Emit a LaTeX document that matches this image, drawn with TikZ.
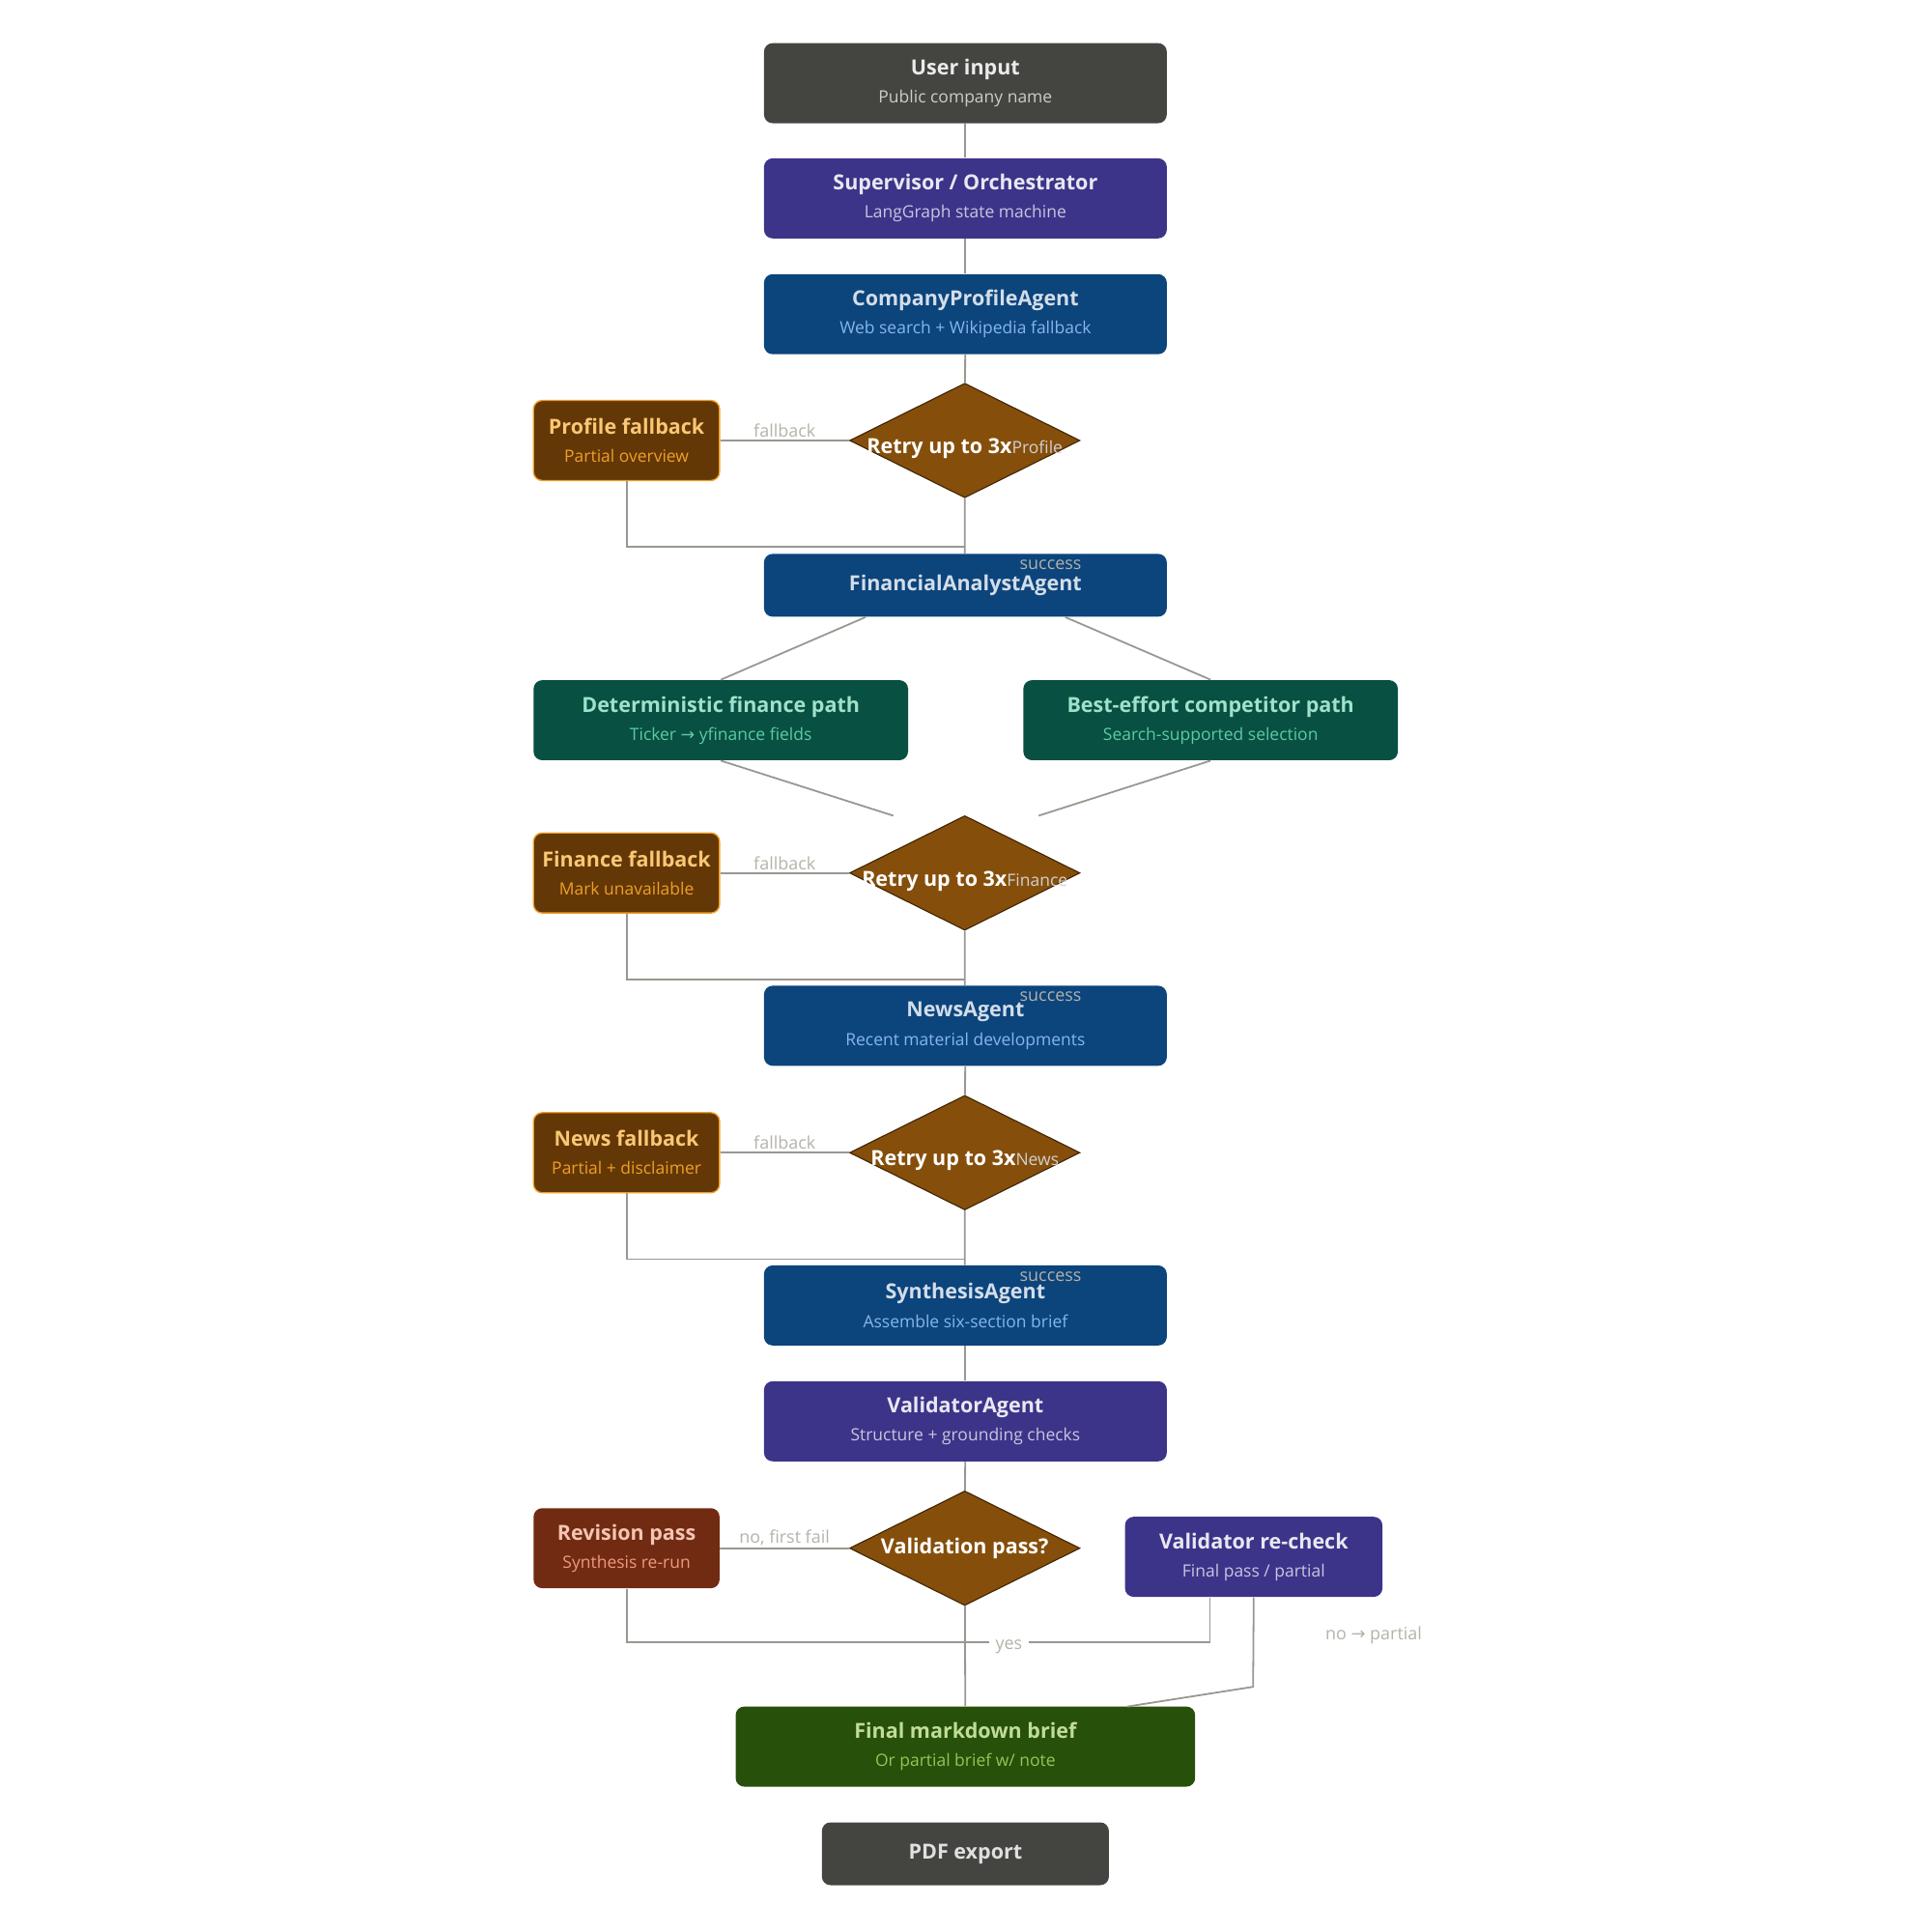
\documentclass[tikz,border=0pt]{standalone}
\usepackage{fontspec}
\setmainfont{Open Sans}
\newfontfamily\symfont{DejaVu Sans}
\usetikzlibrary{shapes.geometric}
\definecolor{cgray}{HTML}{444441}
\definecolor{cpurple}{HTML}{3C3489}
\definecolor{cblue}{HTML}{0C447C}
\definecolor{cteal}{HTML}{085041}
\definecolor{cbrown}{HTML}{854F0B}
\definecolor{cfall}{HTML}{633806}
\definecolor{cred}{HTML}{712B13}
\definecolor{cgreen}{HTML}{27500A}
\definecolor{cline}{HTML}{999790}
\definecolor{clabel}{HTML}{B4B2A9}
\definecolor{tblue}{HTML}{85B7EB}
\definecolor{tamber}{HTML}{FAC775}
\definecolor{torange}{HTML}{EF9F27}
\definecolor{tmint}{HTML}{9FE1CB}
\definecolor{tteal}{HTML}{5DCAA5}
\definecolor{tpeach}{HTML}{F5C4B3}
\definecolor{tcoral}{HTML}{F0997B}
\definecolor{tlime}{HTML}{C0DD97}
\definecolor{tleaf}{HTML}{97C459}
\definecolor{ddark}{HTML}{412402}
\newcommand{\twoline}[4]{{\fontsize{9.6}{11}\selectfont\bfseries\color{#3}#1}\\[1pt]{\fontsize{7.8}{9}\selectfont\color{#4}#2}}
\tikzset{
  box/.style={rounded corners=4pt, align=center, inner sep=0pt, minimum height=1.3cm},
  gbox/.style={box, fill=cgray},
  pbox/.style={box, fill=cpurple},
  bbox/.style={box, fill=cblue},
  tbox/.style={box, fill=cteal},
  fbox/.style={box, fill=cfall, draw=torange, line width=0.6pt, minimum width=3.02cm},
  rbox/.style={box, fill=cred, minimum width=3.02cm},
  dia/.style={diamond, fill=cbrown, draw=ddark, line width=0.5pt, minimum width=3.74cm, minimum height=1.86cm, inner sep=0pt},
  conn/.style={cline, line width=0.8pt},
  lbl/.style={text=clabel, font=\fontsize{8}{9}\selectfont, inner sep=1pt},
}
\begin{document}
\begin{tikzpicture}[x=0.02cm, y=-0.02cm]
\useasboundingbox (0,0) rectangle (1568,1568);

\node[gbox, minimum width=6.54cm](user) at (783.5, 67.5) {\twoline{User input}{Public company name}{white!92!black}{white!80!black}};
\node[pbox, minimum width=6.54cm](sup) at (783.5, 161) {\twoline{Supervisor / Orchestrator}{LangGraph state machine}{white!88!cpurple}{white!72!cpurple}};
\node[bbox, minimum width=6.54cm](prof) at (783.5, 255) {\twoline{CompanyProfileAgent}{Web search + Wikipedia fallback}{white!82!cblue}{tblue}};

\node[dia](d1) at (783, 357.5) {};
\node(d1t) at (783, 364) {\twoline{Retry up to 3x}{Profile}{white}{white!82!black}};
\node[fbox](pfb) at (508.5, 357.5) {\twoline{Profile fallback}{Partial overview}{tamber}{torange}};
\coordinate (j1) at (783, 444);

\node[bbox, minimum width=6.54cm, minimum height=1.02cm](fin) at (783.5, 475) {{\fontsize{9.6}{11}\selectfont\bfseries\color{white!82!cblue}FinancialAnalystAgent}};
\node[tbox, minimum width=6.08cm](det) at (585, 584.5) {\twoline{Deterministic finance path}{Ticker {\symfont→} yfinance fields}{tmint}{tteal}};
\node[tbox, minimum width=6.08cm](best) at (982.5, 584.5) {\twoline{Best-effort competitor path}{Search-supported selection}{tmint}{tteal}};

\node[dia](d2) at (783, 708.5) {};
\node(d2t) at (783, 715) {\twoline{Retry up to 3x}{Finance}{white}{white!82!black}};
\node[fbox](ffb) at (508.5, 708.5) {\twoline{Finance fallback}{Mark unavailable}{tamber}{torange}};
\coordinate (j2) at (783, 795);

\node[bbox, minimum width=6.54cm](news) at (783.5, 832.5) {\twoline{NewsAgent}{Recent material developments}{white!82!cblue}{tblue}};
\node[dia](d3) at (783, 935.5) {};
\node(d3t) at (783, 942) {\twoline{Retry up to 3x}{News}{white}{white!82!black}};
\node[fbox](nfb) at (508.5, 935.5) {\twoline{News fallback}{Partial + disclaimer}{tamber}{torange}};
\coordinate (j3) at (783, 1022);

\node[bbox, minimum width=6.54cm](syn) at (783.5, 1059.5) {\twoline{SynthesisAgent}{Assemble six-section brief}{white!82!cblue}{tblue}};
\node[pbox, minimum width=6.54cm](val) at (783.5, 1153.5) {\twoline{ValidatorAgent}{Structure + grounding checks}{white!88!cpurple}{white!72!cpurple}};

\node[dia](d4) at (783, 1256.5) {};
\node(d4t) at (783, 1256.5) {{\fontsize{9.6}{11}\selectfont\bfseries\color{white}Validation pass?}};
\node[rbox](rev) at (508.5, 1256.5) {\twoline{Revision pass}{Synthesis re-run}{tpeach}{tcoral}};
\node[pbox, minimum width=4.18cm](rchk) at (1017.5, 1263.5) {\twoline{Validator re-check}{Final pass / partial}{white!88!cpurple}{white!72!cpurple}};
\coordinate (j4) at (783, 1333);
\coordinate (k4) at (982, 1333);
\coordinate (m4) at (1017, 1369);

\node[box, fill=cgreen, minimum width=7.46cm](brief) at (783.5, 1417.5) {\twoline{Final markdown brief}{Or partial brief w/ note}{tlime}{tleaf}};
\node[gbox, minimum width=4.66cm, minimum height=1.02cm](pdf) at (783.5, 1504.5) {{\fontsize{9.6}{11}\selectfont\bfseries\color{white!88!black}PDF export}};

% main spine
\draw[conn] (user) -- (sup);
\draw[conn] (sup) -- (prof);
\draw[conn] (prof) -- (d1);
\draw[conn] (d1) -- node[lbl, pos=1, right=24pt, yshift=-8pt]{success} (j1) -- (fin);
\draw[conn] (pfb.south) |- (j1);
\draw[conn] (pfb) -- node[lbl, above]{fallback} (d1);

\draw[conn] (fin.south) ++(-81,0) -- (det.north);
\draw[conn] (fin.south) ++(81,0) -- (best.north);
\draw[conn] (det.south) -- (725,662);
\draw[conn] (best.south) -- (843,662);

\draw[conn] (d2) -- node[lbl, pos=1, right=24pt, yshift=-8pt]{success} (j2) -- (news);
\draw[conn] (ffb.south) |- (j2);
\draw[conn] (ffb) -- node[lbl, above]{fallback} (d2);

\draw[conn] (news) -- (d3);
\draw[conn] (d3) -- node[lbl, pos=1, right=24pt, yshift=-8pt]{success} (j3) -- (syn);
\draw[conn] (nfb.south) |- (j3);
\draw[conn] (nfb) -- node[lbl, above]{fallback} (d3);

\draw[conn] (syn) -- (val);
\draw[conn] (val) -- (d4);
\draw[conn] (rev) -- node[lbl, above]{no, first fail} (d4);
\draw[conn] (rev.south) |- (j4);
\draw[conn] (d4) -- (brief);
\draw[conn] (j4) -- node[lbl, fill=white, inner sep=3pt, pos=0.18, yshift=-2pt]{yes} (k4) -- (rchk.south -| k4);
\draw[conn] (rchk.south) -- (m4) -- node[lbl, pos=0, right=32pt, yshift=24pt]{no {\symfont→} partial} (915,1385);
\end{tikzpicture}
\end{document}
